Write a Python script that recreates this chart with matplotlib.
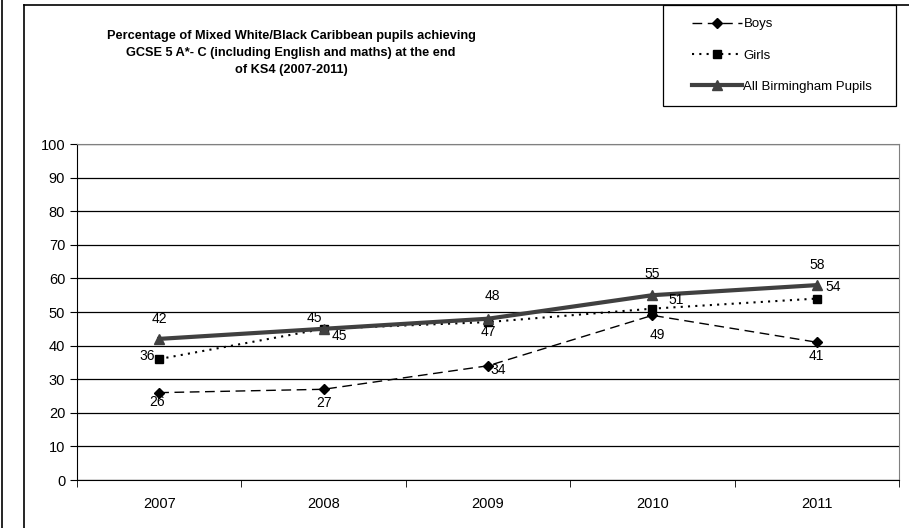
import matplotlib
matplotlib.use("Agg")
import matplotlib.pyplot as plt
from matplotlib.lines import Line2D
from matplotlib.patches import Rectangle

plt.rcParams['font.family'] = ['Liberation Sans', 'DejaVu Sans']

years = ['2007', '2008', '2009', '2010', '2011']
boys = [26, 27, 34, 49, 41]
girls = [36, 45, 47, 51, 54]
all_pupils = [42, 45, 48, 55, 58]

# label offsets (points) for each series
boys_off = [(-1.5, -7), (0, -10), (7, -3), (3.6, -14), (0, -10)]
girls_off = [(-8.6, 2), (11.5, -5), (0, -7), (17, 6.5), (12, 8)]
all_off = [(0, 14), (-6.5, 8), (3, 16.5), (0, 15), (0, 14.4)]

W, H = 909, 528
fig = plt.figure(figsize=(W / 100, H / 100), dpi=100)

# outer frame lines
fig.add_artist(Line2D([2 / W, 2 / W], [0, 1], color='black', lw=1.2))
fig.add_artist(Line2D([24 / W, 24 / W], [0, 1 - 5 / H], color='black', lw=1.2))
fig.add_artist(Line2D([24 / W, 1], [1 - 5 / H, 1 - 5 / H], color='black', lw=1.2))

ax = fig.add_axes([77 / W, 48 / H, 822 / W, 336 / H])
x = list(range(len(years)))

ax.plot(x, boys, color='black', lw=1, dashes=(7, 4), marker='D', markersize=5, label='Boys')
ax.plot(x, girls, color='black', lw=1.5, dashes=(1, 2.5), marker='s', markersize=5.5, label='Girls')
ax.plot(x, all_pupils, color='#404040', lw=3, marker='^', markersize=7.5, label='All Birmingham Pupils')

for vals, offs in [(boys, boys_off), (girls, girls_off), (all_pupils, all_off)]:
    for xi, v, off in zip(x, vals, offs):
        ax.annotate(str(v), (xi, v), xytext=off, textcoords='offset points',
                    ha='center', va='center', fontsize=10)

ax.set_xlim(-0.5, 4.5)
ax.set_ylim(0, 100)
ax.set_yticks(range(0, 101, 10))
ax.set_xticks(x)
ax.set_xticklabels(years)
ax.set_xticks([i + 0.5 for i in range(-1, 5)], minor=True)
ax.tick_params(axis='x', which='major', length=0, pad=12, labelsize=10.5)
ax.tick_params(axis='x', which='minor', length=5, direction='out')
ax.tick_params(axis='y', length=5, direction='out', labelsize=10.5)
ax.yaxis.grid(True, color='black', lw=0.9)
ax.set_axisbelow(True)
for side in ['top', 'right']:
    ax.spines[side].set_color('#808080')
ax.spines['left'].set_color('black')
ax.spines['bottom'].set_color('black')

fig.text(291 / W, 1 - 53 / H,
         'Percentage of Mixed White/Black Caribbean pupils achieving\n'
         'GCSE 5 A*- C (including English and maths) at the end\n'
         'of KS4 (2007-2011)',
         ha='center', va='center', fontsize=9.2, fontweight='bold', linespacing=1.6)

# legend box
fig.add_artist(Rectangle((663 / W, 1 - 106 / H), 233 / W, 101 / H,
                         transform=fig.transFigure, fill=False, edgecolor='black', lw=0.9))
leg = fig.legend(loc='upper left', bbox_to_anchor=(688 / W, 1 - 14 / H),
                 frameon=False, fontsize=9.5, handlelength=3.8,
                 labelspacing=1.45, borderpad=0.3, handletextpad=0.1, borderaxespad=0)

fig.savefig('out.png', dpi=100)
